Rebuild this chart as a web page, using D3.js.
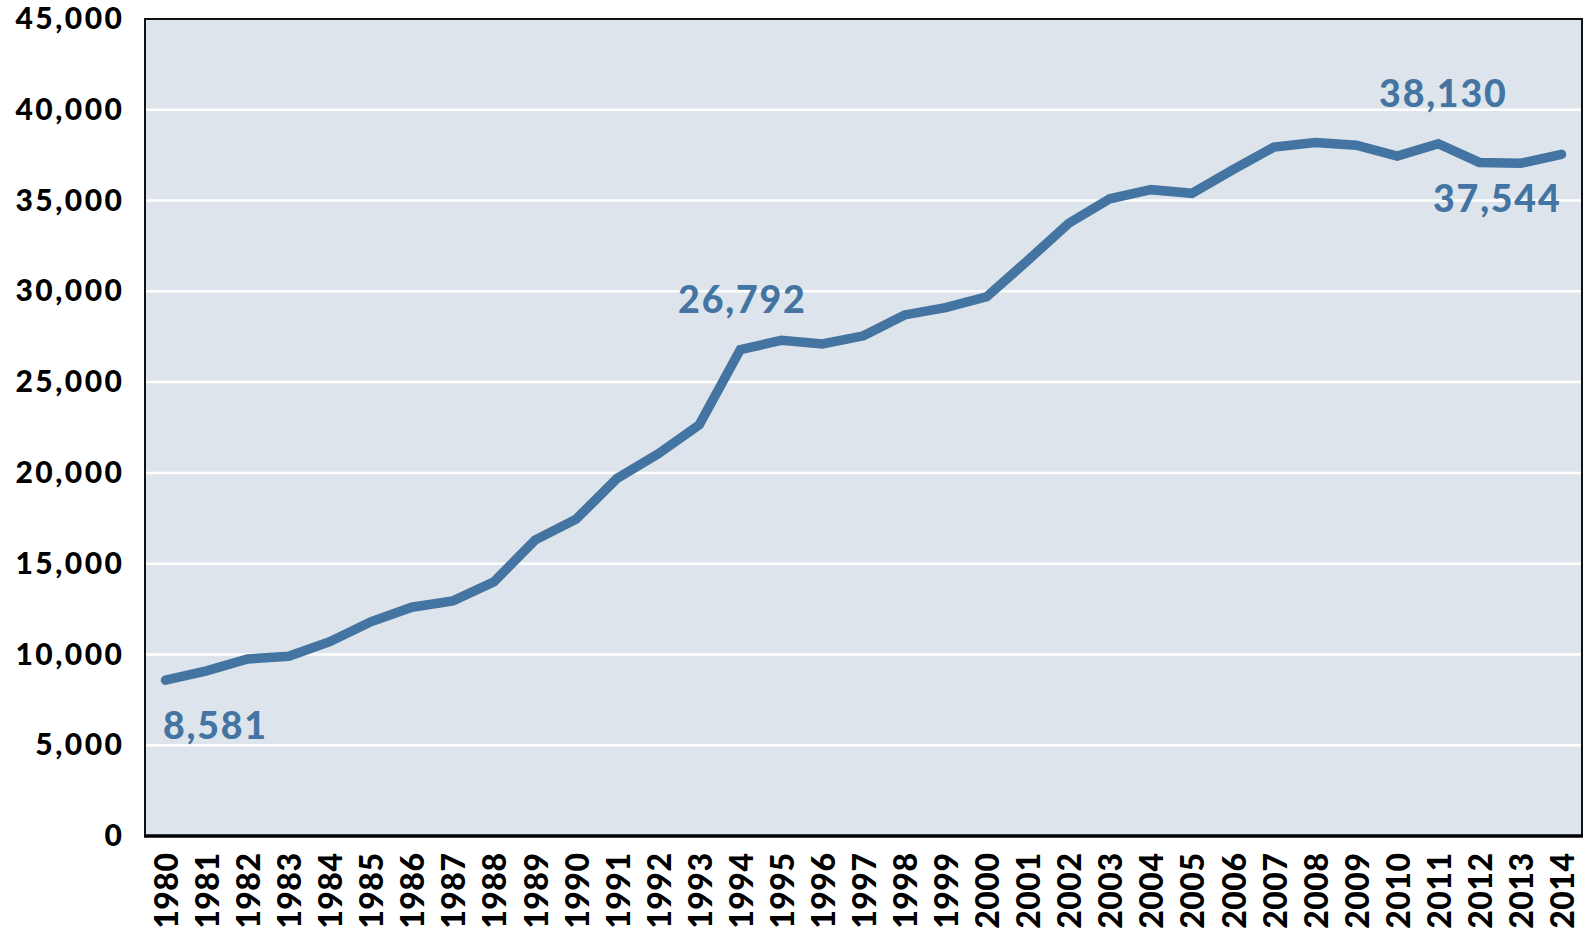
<!DOCTYPE html>
<html>
<head>
<meta charset="utf-8">
<script src="https://cdn.jsdelivr.net/npm/d3@7"></script>
<style>
  html, body { margin: 0; padding: 0; background: #ffffff; }
  svg { display: block; }
  text { font-family: "Lato", "Open Sans", sans-serif; font-weight: 900; }
</style>
</head>
<body>
<svg id="chart" width="1593" height="931"></svg>
<script>
// Annual totals, 1980–2014
const years = [
  1980, 1981, 1982, 1983, 1984, 1985, 1986, 1987, 1988, 1989,
  1990, 1991, 1992, 1993, 1994, 1995, 1996, 1997, 1998, 1999,
  2000, 2001, 2002, 2003, 2004, 2005, 2006, 2007, 2008, 2009,
  2010, 2011, 2012, 2013, 2014
];
const totals = [
  8581, 9100, 9750, 9900, 10700, 11800, 12600, 12950, 14000, 16300,
  17450, 19700, 21050, 22650, 26792, 27300, 27100, 27550, 28700, 29100,
  29700, 31700, 33750, 35100, 35600, 35400, 36700, 37950, 38200, 38050,
  37450, 38130, 37100, 37050, 37544
];
const yTicks = [0, 5000, 10000, 15000, 20000, 25000, 30000, 35000, 40000, 45000];
// Points that carry a value label, with where the label sits relative to the point
const callouts = [
  { year: 1980, dx: -2.5, dy: 59, anchor: "start" },
  { year: 1994, dx: 2, dy: -37, anchor: "middle" },
  { year: 2011, dx: 5, dy: -37, anchor: "middle" },
  { year: 2014, dx: 0, dy: 58, anchor: "end" }
];

const svg = d3.select("#chart");
const margin = { top: 19, right: 11, bottom: 95, left: 145 };
const W = 1593, H = 931;
const innerW = W - margin.left - margin.right;
const innerH = H - margin.top - margin.bottom;

const x = d3.scaleBand().domain(years).range([margin.left, margin.left + innerW]).padding(0);
const y = d3.scaleLinear().domain([0, 45000]).range([margin.top + innerH, margin.top]);
const cx = d => x(d) + x.bandwidth() / 2;
const fmt = d3.format(",");
const blue = "#4474a2";

// plot background
svg.append("rect")
  .attr("x", margin.left).attr("y", margin.top)
  .attr("width", innerW).attr("height", innerH)
  .attr("fill", "#dee4eb");

// horizontal gridlines
svg.append("g")
  .selectAll("line")
  .data(yTicks.filter(t => t > 0 && t < 45000))
  .join("line")
  .attr("x1", margin.left).attr("x2", margin.left + innerW)
  .attr("y1", d => y(d)).attr("y2", d => y(d))
  .attr("stroke", "#ffffff").attr("stroke-width", 2.5);

// frame: thin top/left/right, heavier baseline
svg.append("rect")
  .attr("x", margin.left).attr("y", margin.top)
  .attr("width", innerW).attr("height", innerH)
  .attr("fill", "none").attr("stroke", "#111").attr("stroke-width", 2);
svg.append("line")
  .attr("x1", margin.left - 1).attr("x2", margin.left + innerW + 1)
  .attr("y1", y(0)).attr("y2", y(0))
  .attr("stroke", "#000").attr("stroke-width", 3.5);

// y axis labels
const yAxis = d3.axisLeft(y).tickValues(yTicks).tickFormat(fmt).tickSize(0).tickPadding(20.5);
const gy = svg.append("g").attr("transform", `translate(${margin.left},0)`).call(yAxis);
gy.select(".domain").remove();
gy.selectAll("text")
  .attr("font-size", 30).attr("fill", "#000")
  .style("font-family", "Lato, sans-serif").style("font-weight", 900)
  .style("letter-spacing", "2.5px");

// x axis labels, rotated
const xAxis = d3.axisBottom(x).tickSize(0).tickPadding(0);
const gx = svg.append("g").attr("transform", `translate(0,${y(0)})`).call(xAxis);
gx.select(".domain").remove();
gx.selectAll("text")
  .attr("font-size", 32).attr("fill", "#000")
  .style("font-family", "Lato, sans-serif").style("font-weight", 900)
  .style("letter-spacing", "0.5px")
  .attr("text-anchor", "end")
  .attr("dy", null)
  .attr("transform", "translate(0,16.5) rotate(-90)")
  .attr("x", 0).attr("y", 0)
  .attr("dominant-baseline", "central");

// the series line
const line = d3.line().x((d, i) => cx(years[i])).y(d => y(d));
svg.append("path")
  .datum(totals)
  .attr("d", line)
  .attr("fill", "none")
  .attr("stroke", blue)
  .attr("stroke-width", 9.5)
  .attr("stroke-linejoin", "miter")
  .attr("stroke-linecap", "round");

// value labels
svg.append("g")
  .selectAll("text")
  .data(callouts)
  .join("text")
  .attr("x", d => cx(d.year) + d.dx)
  .attr("y", d => y(totals[years.indexOf(d.year)]) + d.dy)
  .attr("text-anchor", d => d.anchor)
  .attr("font-size", 37.5)
  .style("letter-spacing", "1.8px")
  .attr("fill", blue)
  .text(d => fmt(totals[years.indexOf(d.year)]));
</script>
</body>
</html>
